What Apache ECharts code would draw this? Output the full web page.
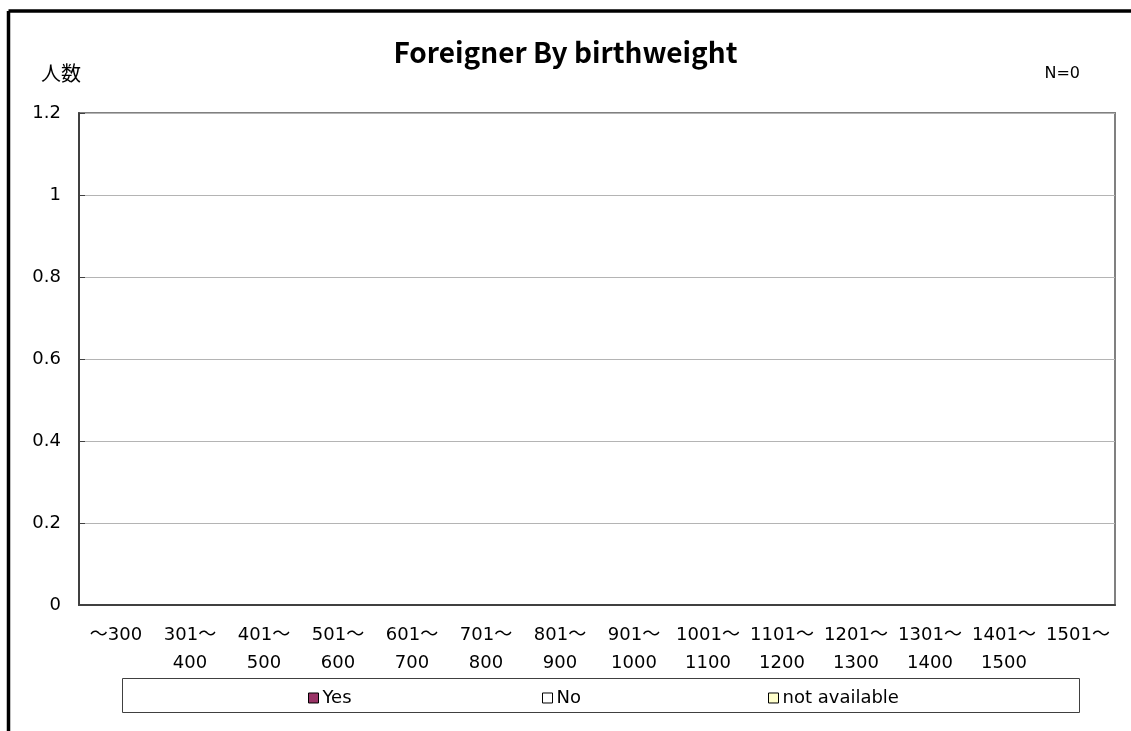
<!DOCTYPE html>
<html>
<head>
<meta charset="utf-8">
<script src="https://cdn.jsdelivr.net/npm/echarts@6/dist/echarts.min.js"></script>
<style>
  html, body { margin: 0; padding: 0; background: #fff; }
  #chart { width: 1131px; height: 731px; }
</style>
</head>
<body>
<div id="chart"></div>
<script>
// ---- Data ----
const categories = [
  '～300', '301～\n400', '401～\n500', '501～\n600', '601～\n700', '701～\n800', '801～\n900',
  '901～\n1000', '1001～\n1100', '1101～\n1200', '1201～\n1300', '1301～\n1400', '1401～\n1500', '1501～',
]
const yesValues = [0, 0, 0, 0, 0, 0, 0, 0, 0, 0, 0, 0, 0, 0]
const noValues = [0, 0, 0, 0, 0, 0, 0, 0, 0, 0, 0, 0, 0, 0]
const naValues = [0, 0, 0, 0, 0, 0, 0, 0, 0, 0, 0, 0, 0, 0]
const totalN = 0

const FONT = '"DejaVu Sans", "Noto Sans CJK JP", sans-serif'
const CJK_FONT = '"Noto Sans CJK JP", sans-serif'
const YES_COLOR = '#993366'
const NO_COLOR = '#ffffff'
const NA_COLOR = '#ffffcc'
const AXIS_COLOR = '#404040'
const GRID_COLOR = '#b4b4b4'

function legendAt(name, left) {
  return {
    data: [name],
    left,
    top: 684,
    itemWidth: 10,
    itemHeight: 10,
    itemGap: 0,
    icon: 'rect',
    itemStyle: { borderColor: '#000', borderWidth: 1 },
    textStyle: { fontFamily: FONT, fontSize: 18, color: '#000', padding: [0, 0, 0, -1] },
  }
}

function barSeries(name, data, color) {
  return {
    name,
    type: 'bar',
    data,
    itemStyle: { color },
  }
}

const chart = echarts.init(document.getElementById('chart'), null, { renderer: 'canvas' })

chart.setOption({
  backgroundColor: '#fff',
  animation: false,
  title: [
    {
      text: 'Foreigner By birthweight',
      left: 'center',
      top: 33,
      textStyle: { fontFamily: CJK_FONT, fontSize: 28, fontWeight: 'bold', color: '#000' },
    },
    {
      text: '人数',
      left: 36,
      top: 58,
      textStyle: { fontFamily: CJK_FONT, fontSize: 20, fontWeight: 'normal', color: '#000' },
    },
    {
      text: 'N=' + totalN,
      right: 46,
      top: 61,
      textStyle: { fontFamily: FONT, fontSize: 16, fontWeight: 'normal', color: '#000' },
    },
  ],
  legend: [
    legendAt('Yes', 303),
    legendAt('No', 537),
    legendAt('not available', 763),
  ],
  grid: {
    left: 79,
    right: 16,
    top: 113,
    bottom: 126,
    show: true,
    borderColor: '#808080',
    borderWidth: 2,
    containLabel: false,
  },
  xAxis: {
    type: 'category',
    data: categories,
    boundaryGap: true,
    axisLine: { lineStyle: { color: AXIS_COLOR, width: 2 } },
    axisTick: { inside: true, length: 6, lineStyle: { color: AXIS_COLOR, width: 1 } },
    axisLabel: {
      interval: 0,
      margin: 16,
      fontFamily: FONT,
      fontSize: 18,
      lineHeight: 28,
      color: '#000',
    },
  },
  yAxis: {
    type: 'value',
    min: 0,
    max: 1.2,
    interval: 0.2,
    axisLine: { show: true, lineStyle: { color: AXIS_COLOR, width: 2 } },
    axisTick: { show: true, inside: true, length: 6, lineStyle: { color: AXIS_COLOR } },
    axisLabel: {
      margin: 18,
      fontFamily: FONT,
      fontSize: 18,
      color: '#000',
      formatter: (v) => String(+v.toFixed(1)),
    },
    splitLine: { lineStyle: { color: GRID_COLOR, width: 1 } },
  },
  series: [
    barSeries('Yes', yesValues, YES_COLOR),
    barSeries('No', noValues, NO_COLOR),
    barSeries('not available', naValues, NA_COLOR),
  ],
  graphic: [
    // outer chart frame (only top and left edges are in view)
    { type: 'line', shape: { x1: 8.5, y1: 11, x2: 1131, y2: 11 }, style: { stroke: '#000', lineWidth: 3.5 } },
    { type: 'line', shape: { x1: 8.5, y1: 11, x2: 8.5, y2: 731 }, style: { stroke: '#000', lineWidth: 3.5 } },
    // legend box
    {
      type: 'rect',
      shape: { x: 122.5, y: 678.5, width: 957, height: 34 },
      style: { fill: 'none', stroke: '#404040', lineWidth: 1 },
      z: -1,
    },
  ],
})
</script>
</body>
</html>
